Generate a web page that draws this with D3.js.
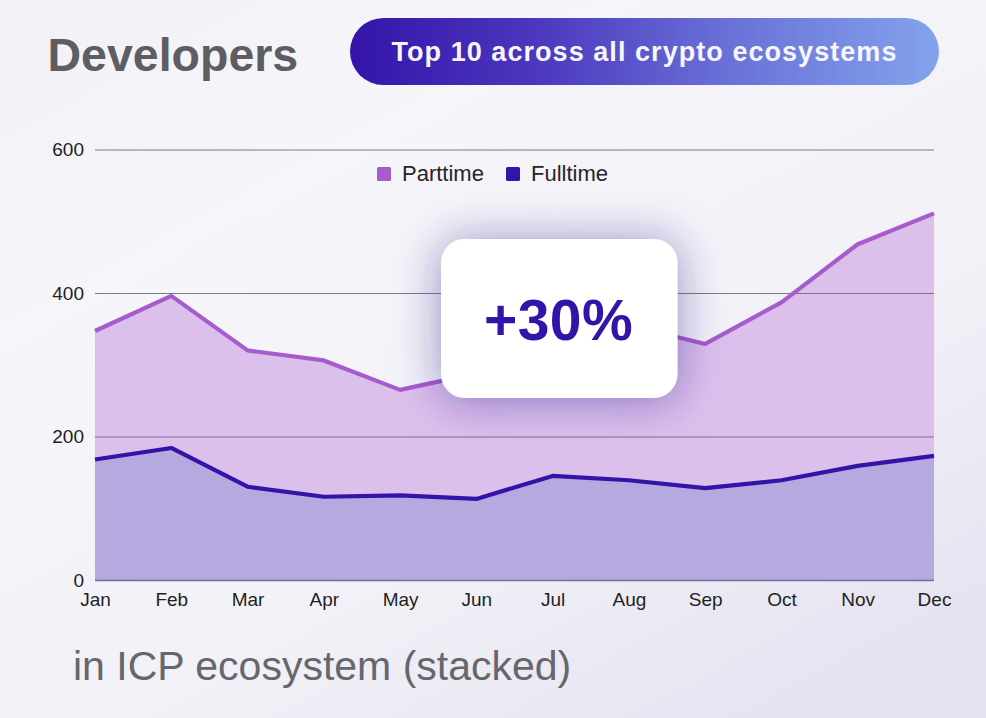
<!DOCTYPE html>
<html><head><meta charset="utf-8">
<script src="https://cdn.jsdelivr.net/npm/d3@7"></script>
<style>html,body{margin:0;padding:0;background:#f3f2f8}svg{display:block}text{font-family:"Liberation Sans",Arial,sans-serif}</style>
</head><body><div id="c"></div>
<script>
const months=["Jan","Feb","Mar","Apr","May","Jun","Jul","Aug","Sep","Oct","Nov","Dec"];
const fulltime=[168,184,130,116,118,113,145,139,128,139,159,173];
const parttime=[179,212,190,190,147,175,185,216,201,248,309,338];
const yTicks=[0,200,400,600];
const W=986,H=718;
const svg=d3.select("#c").append("svg").attr("width",W).attr("height",H);
const defs=svg.append("defs");
const bg=defs.append("linearGradient").attr("id","bg").attr("x1","0").attr("y1","0").attr("x2","0.75").attr("y2","1");
bg.append("stop").attr("offset","0").attr("stop-color","#f2f1f6");
bg.append("stop").attr("offset","0.3").attr("stop-color","#f6f5fa");
bg.append("stop").attr("offset","0.7").attr("stop-color","#f2f1f7");
bg.append("stop").attr("offset","1").attr("stop-color","#e6e4f1");
const pill=defs.append("linearGradient").attr("id","pill");
pill.append("stop").attr("offset","0").attr("stop-color","#3414a8");
pill.append("stop").attr("offset","0.3").attr("stop-color","#4a35bd");
pill.append("stop").attr("offset","0.65").attr("stop-color","#6a72d8");
pill.append("stop").attr("offset","1").attr("stop-color","#83a3ec");
const sh=defs.append("filter").attr("id","sh").attr("x","-50%").attr("y","-60%").attr("width","200%").attr("height","220%");
sh.append("feDropShadow").attr("dx",0).attr("dy",2).attr("stdDeviation",22).attr("flood-color","#33248f").attr("flood-opacity",0.5);
svg.append("rect").attr("width",W).attr("height",H).attr("fill","url(#bg)");

const x=d3.scalePoint().domain(months).range([95,934]);
const y=d3.scaleLinear().domain([0,600]).range([580,149.5]);
const rows=months.map((m,i)=>({m,Fulltime:fulltime[i],Parttime:parttime[i]}));
const stack=d3.stack().keys(["Fulltime","Parttime"])(rows);
const color={Fulltime:"#3414a8",Parttime:"#a65ccc"};
const fill={Fulltime:"#b6a9df",Parttime:"#dcc0ec"};

const area=d3.area().x(d=>x(d.data.m)).y0(d=>y(d[0])).y1(d=>y(d[1]));
const line=d3.line().x(d=>x(d.data.m)).y(d=>y(d[1]));
svg.append("g").selectAll("path").data(stack).join("path").attr("d",area).attr("fill",d=>fill[d.key]);

const gy=svg.append("g").attr("transform","translate(95,0)").call(d3.axisLeft(y).tickValues(yTicks).tickSize(0).tickPadding(11));
gy.select(".domain").remove();
gy.selectAll(".tick line").attr("x2",839).attr("stroke",d=>d===0?"#6f6a8c":"#6a6570").attr("stroke-opacity",d=>d===0?0.95:0.85).attr("stroke-width",d=>d===0?1.6:1.2);
gy.selectAll("text").attr("font-size",19).attr("fill","#1f1f24");

const gx=svg.append("g").attr("transform","translate(0,580)").call(d3.axisBottom(x).tickSize(0).tickPadding(12.5));
gx.select(".domain").remove();
gx.selectAll("text").attr("font-size",19).attr("fill","#1f1f24").attr("font-family","Liberation Sans");

svg.append("g").selectAll("path").data(stack).join("path").attr("d",line).attr("fill","none").attr("stroke",d=>color[d.key]).attr("stroke-width",4.2).attr("stroke-linejoin","round");

// legend
const legend=[{k:"Parttime",sx:377,tx:402},{k:"Fulltime",sx:506,tx:531}];
legend.forEach(l=>{
  svg.append("rect").attr("x",l.sx).attr("y",167).attr("width",14).attr("height",14).attr("rx",1.5).attr("fill",color[l.k]);
  svg.append("text").attr("x",l.tx).attr("y",181).attr("font-size",22).attr("fill","#25252b").text(l.k);
});

// callout
svg.append("rect").attr("x",441).attr("y",239).attr("width",236.5).attr("height",159).attr("rx",24).attr("fill","#fff").attr("filter","url(#sh)");
svg.append("text").attr("x",558.5).attr("y",340).attr("text-anchor","middle").attr("font-size",57).attr("font-weight",700).attr("letter-spacing",0.4).attr("fill","#3414a8").text("+30%");

// headers
svg.append("text").attr("x",47.5).attr("y",71).attr("font-size",46.5).attr("font-weight",700).attr("fill","#5d5d63").text("Developers");
svg.append("rect").attr("x",350).attr("y",18).attr("width",589).attr("height",67).attr("rx",33.5).attr("fill","url(#pill)");
svg.append("text").attr("x",644.5).attr("y",61).attr("text-anchor","middle").attr("font-size",27).attr("font-weight",700).attr("letter-spacing",1.05).attr("fill","#f6f6fc").text("Top 10 across all crypto ecosystems");
svg.append("text").attr("x",73).attr("y",680).attr("font-size",41).attr("fill","#66666c").text("in ICP ecosystem (stacked)");
</script></body></html>
